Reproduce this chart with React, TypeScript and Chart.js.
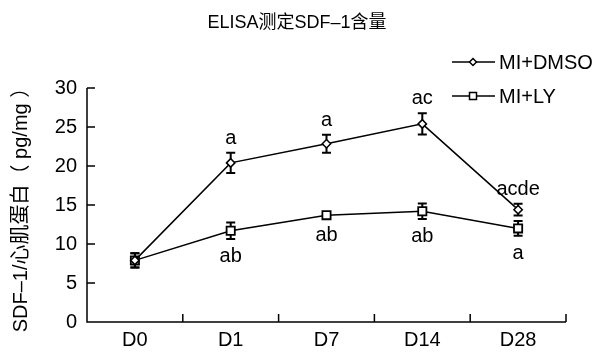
import React, { useEffect, useRef } from 'react';
import { Chart, registerables } from 'chart.js';

Chart.register(...registerables);

const categories = ['D0', 'D1', 'D7', 'D14', 'D28'];
const seriesNames = ['MI+DMSO', 'MI+LY'];
const dmsoMean = [7.9, 20.4, 22.85, 25.4, 14.4];
const dmsoErr = [0.9, 1.3, 1.15, 1.35, 0.75];
const lyMean = [7.9, 11.7, 13.7, 14.2, 12.0];
const lyErr = [0.9, 1.05, 0.4, 1.0, 0.95];
const dmsoSig = ['', 'a', 'a', 'ac', 'acde'];
const lySig = ['', 'ab', 'ab', 'ab', 'a'];
const yTicks = [0, 5, 10, 15, 20, 25, 30];
const titleText = 'ELISA测定SDF–1含量';
const yTitleText = 'SDF–1/心肌蛋白（ pg/mg ）';

const FONT = "'Liberation Sans', 'Noto Sans CJK SC', Arial, sans-serif";

function drawMarker(ctx: CanvasRenderingContext2D, style: string, x: number, y: number, r: number) {
  ctx.beginPath();
  if (style === 'rectRot') {
    ctx.moveTo(x - r, y);
    ctx.lineTo(x, y - r);
    ctx.lineTo(x + r, y);
    ctx.lineTo(x, y + r);
    ctx.closePath();
  } else {
    ctx.rect(x - r, y - r, 2 * r, 2 * r);
  }
  ctx.fillStyle = '#fff';
  ctx.fill();
  ctx.stroke();
}

const overlayPlugin = {
  id: 'overlay',
  beforeDatasetsDraw(chart: any) {
    const { ctx, scales } = chart;
    const x = scales.x;
    const y = scales.y;
    ctx.save();
    ctx.strokeStyle = '#000';
    ctx.lineWidth = 2;
    const cap = 4.5;
    const sets = [
      { mean: dmsoMean, err: dmsoErr },
      { mean: lyMean, err: lyErr },
    ];
    sets.forEach((s) => {
      s.mean.forEach((m, i) => {
        const px = x.getPixelForValue(i);
        const top = y.getPixelForValue(m + s.err[i]);
        const bot = y.getPixelForValue(m - s.err[i]);
        ctx.beginPath();
        ctx.moveTo(px, top);
        ctx.lineTo(px, bot);
        ctx.moveTo(px - cap, top);
        ctx.lineTo(px + cap, top);
        ctx.moveTo(px - cap, bot);
        ctx.lineTo(px + cap, bot);
        ctx.stroke();
      });
    });
    ctx.restore();
  },
  afterDraw(chart: any) {
    const { ctx, chartArea: ca, scales } = chart;
    const x = scales.x;
    const y = scales.y;
    ctx.save();
    // axes with inward ticks
    ctx.strokeStyle = '#000';
    ctx.lineWidth = 1.5;
    ctx.beginPath();
    ctx.moveTo(ca.left, ca.top);
    ctx.lineTo(ca.left, ca.bottom);
    ctx.lineTo(ca.right, ca.bottom);
    yTicks.forEach((v) => {
      const py = y.getPixelForValue(v);
      ctx.moveTo(ca.left, py);
      ctx.lineTo(ca.left + 8, py);
    });
    for (let i = 1; i <= categories.length; i++) {
      const px = x.getPixelForValue(i - 0.5);
      ctx.moveTo(px, ca.bottom);
      ctx.lineTo(px, ca.bottom - 8);
    }
    ctx.stroke();

    // significance letters
    ctx.fillStyle = '#000';
    ctx.font = `20px ${FONT}`;
    ctx.textAlign = 'center';
    ctx.textBaseline = 'alphabetic';
    dmsoSig.forEach((t, i) => {
      if (!t) return;
      const px = x.getPixelForValue(i);
      const top = y.getPixelForValue(dmsoMean[i] + dmsoErr[i]);
      ctx.fillText(t, px, top - 9);
    });
    lySig.forEach((t, i) => {
      if (!t) return;
      const px = x.getPixelForValue(i);
      const bot = y.getPixelForValue(lyMean[i] - lyErr[i]);
      ctx.fillText(t, px, bot + 23);
    });

    // title
    ctx.font = `18px ${FONT}`;
    ctx.textAlign = 'center';
    ctx.textBaseline = 'middle';
    ctx.fillText(titleText, 297, 23);

    // legend
    const styles = ['rectRot', 'rect'];
    const sizes = [3.5, 3.5];
    const rows = [62, 96];
    ctx.font = `20px ${FONT}`;
    ctx.textAlign = 'left';
    ctx.textBaseline = 'middle';
    seriesNames.forEach((name, k) => {
      const ry = rows[k];
      ctx.lineWidth = 1.5;
      ctx.strokeStyle = '#000';
      ctx.beginPath();
      ctx.moveTo(452, ry);
      ctx.lineTo(495, ry);
      ctx.stroke();
      drawMarker(ctx, styles[k], 473, ry, sizes[k]);
      ctx.fillStyle = '#000';
      ctx.fillText(name, 499, ry + 1);
    });
    ctx.restore();
  },
};

export default function App() {
  const canvasRef = useRef<HTMLCanvasElement | null>(null);

  useEffect(() => {
    document.body.style.margin = '0';
    const canvas = canvasRef.current;
    if (!canvas) return;
    const chart = new Chart(canvas, {
      type: 'line',
      data: {
        labels: categories,
        datasets: [
          {
            label: seriesNames[0],
            data: dmsoMean,
            borderColor: '#000',
            borderWidth: 1.5,
            pointStyle: 'rectRot',
            pointRadius: 4.2,
            pointBackgroundColor: '#fff',
            pointBorderColor: '#000',
            pointBorderWidth: 1.5,
            tension: 0,
          },
          {
            label: seriesNames[1],
            data: lyMean,
            borderColor: '#000',
            borderWidth: 1.5,
            pointStyle: 'rect',
            pointRadius: 5.8,
            pointBackgroundColor: '#fff',
            pointBorderColor: '#000',
            pointBorderWidth: 1.8,
            tension: 0,
          },
        ],
      },
      options: {
        animation: false,
        responsive: false,
        maintainAspectRatio: false,
        layout: { padding: { top: 88, right: 34, left: 0, bottom: 0 } },
        plugins: {
          legend: { display: false },
          title: { display: false },
          tooltip: { enabled: false },
        },
        scales: {
          x: {
            type: 'category',
            offset: true,
            grid: { display: false, offset: true, drawTicks: false },
            border: { display: false },
            ticks: { color: '#000', font: { family: FONT, size: 20 }, padding: 6, maxRotation: 0 },
            afterFit: (s: any) => {
              s.height = 30;
            },
          },
          y: {
            min: 0,
            max: 30,
            grid: { display: false, drawTicks: false },
            border: { display: false },
            ticks: { stepSize: 5, color: '#000', font: { family: FONT, size: 20 }, padding: 10 },
            title: {
              display: true,
              text: yTitleText,
              color: '#000',
              font: { family: FONT, size: 20 },
              padding: { top: 9, bottom: 0 },
            },
            afterFit: (s: any) => {
              s.width = 87;
            },
          },
        },
      },
      plugins: [overlayPlugin],
    });
    return () => chart.destroy();
  }, []);

  return (
    <div style={{ width: 600, height: 352, position: 'relative', background: '#fff' }}>
      <canvas ref={canvasRef} width={600} height={352} />
    </div>
  );
}
